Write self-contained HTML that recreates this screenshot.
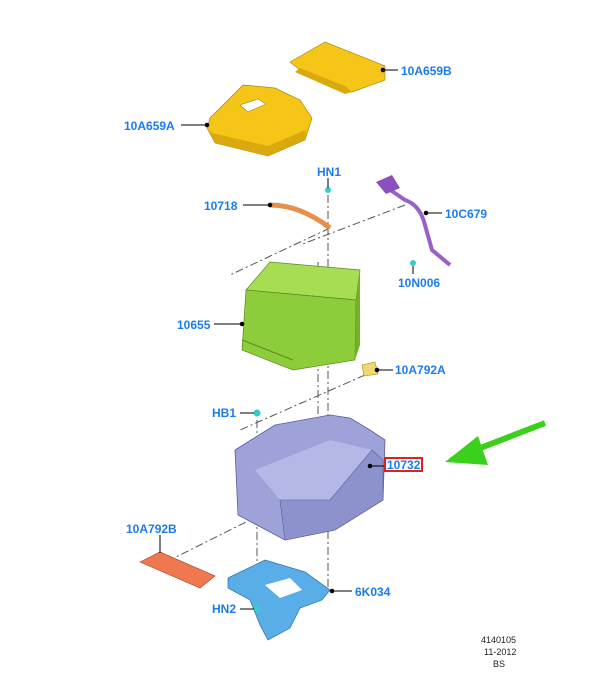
<!DOCTYPE html>
<html><head><meta charset="utf-8"><style>
html,body{margin:0;padding:0;background:#fff}
svg{display:block}
text{font-family:"Liberation Sans",sans-serif;font-weight:bold;font-size:12px;fill:#1a7cf0}
.s{font-size:9px;fill:#222;font-weight:normal}
</style></head><body>
<svg width="600" height="673" viewBox="0 0 600 673" xmlns="http://www.w3.org/2000/svg">
<!-- dash-dot assembly lines -->
<g stroke="#555" stroke-width="1" stroke-dasharray="8,3,2,3" fill="none">
<line x1="328" y1="195" x2="328" y2="590"/>
<line x1="318" y1="262" x2="318" y2="470"/>
<line x1="257" y1="420" x2="257" y2="605"/>
<line x1="365" y1="375" x2="240" y2="430"/>
<line x1="260" y1="515" x2="160" y2="565"/>
<line x1="405" y1="205" x2="300" y2="245"/>
<line x1="330" y1="228" x2="230" y2="275"/>
</g>
<!-- 10A659B cover -->
<polygon points="290,62 325,42 385,66 385,80 352,92 345,88 300,70" fill="#f5c518" stroke="#a88a10" stroke-width="0.7"/>
<polygon points="300,68 345,86 352,92 345,94 295,72" fill="#d9a90e"/>
<!-- 10A659A lid -->
<polygon points="210,118 243,85 275,88 300,100 312,118 305,140 268,156 215,143 207,128" fill="#f5c518" stroke="#a88a10" stroke-width="0.7"/>
<polygon points="207,128 215,143 268,156 305,140 306,130 268,146 212,133" fill="#d9a90e"/>
<polygon points="240,105 258,99 266,104 248,112" fill="#fff" stroke="#a88a10" stroke-width="0.6"/>
<!-- HN1 -->
<circle cx="328" cy="190" r="3" fill="#3cc"/>
<!-- 10718 strap -->
<path d="M270,205 Q300,205 330,228" stroke="#e8904a" stroke-width="5" fill="none"/>
<!-- 10C679 cable -->
<path d="M383,185 L405,200 Q420,205 425,225 L432,250 L450,265" stroke="#9b5fc8" stroke-width="4" fill="none"/>
<polygon points="376,182 392,175 400,188 386,194" fill="#8b4fc0"/>
<circle cx="413" cy="263" r="3" fill="#3cc"/>
<!-- 10655 battery -->
<polygon points="246,290 270,262 360,270 356,300" fill="#a6dd52" stroke="#5d8a20" stroke-width="0.7"/>
<polygon points="246,290 356,300 355,360 293,370 242,350" fill="#8dcc3a" stroke="#5d8a20" stroke-width="0.7"/>
<polygon points="356,300 360,270 360,345 355,360" fill="#76b02a"/>
<line x1="242" y1="340" x2="293" y2="360" stroke="#5d8a20"/>
<!-- 10A792A -->
<polygon points="362,365 375,362 378,374 364,376" fill="#f0d870" stroke="#a88a10" stroke-width="0.6"/>
<!-- HB1 -->
<circle cx="257" cy="413" r="3.5" fill="#3cc"/>
<!-- tray -->
<polygon points="235,450 275,425 330,415 350,418 370,430 385,440 383,500 335,530 285,540 238,515" fill="#9ea2d8" stroke="#5a5e9a" stroke-width="0.8"/>
<polygon points="255,470 330,440 372,450 330,500 280,500" fill="#b4b8e6"/>
<polygon points="280,500 330,500 372,450 383,460 383,500 335,530 285,540" fill="#8e92cc" stroke="#5a5e9a" stroke-width="0.6"/>
<!-- 10A792B -->
<polygon points="140,562 160,552 215,576 200,588" fill="#f07850" stroke="#a04020" stroke-width="0.6"/>
<!-- 6K034 plate -->
<polygon points="228,578 265,560 305,572 330,590 322,600 300,608 290,628 268,640 260,625 250,600 228,588" fill="#5aaee8" stroke="#2d6ea8" stroke-width="0.7"/>
<polygon points="265,585 290,578 302,590 280,598" fill="#fff"/>
<circle cx="257" cy="608" r="3.5" fill="#3cc"/>
<!-- leader lines -->
<g stroke="#000" stroke-width="1">
<line x1="383" y1="70" x2="398" y2="70"/><circle cx="383" cy="70" r="1.8"/>
<line x1="181" y1="125" x2="207" y2="125"/><circle cx="207" cy="125" r="1.8"/>
<line x1="328" y1="178" x2="328" y2="188"/>
<line x1="243" y1="205" x2="270" y2="205"/><circle cx="270" cy="205" r="1.8"/>
<line x1="426" y1="213" x2="442" y2="213"/><circle cx="426" cy="213" r="1.8"/>
<line x1="413" y1="266" x2="413" y2="274"/>
<line x1="214" y1="324" x2="242" y2="324"/><circle cx="242" cy="324" r="1.8"/>
<line x1="377" y1="370" x2="393" y2="370"/><circle cx="377" cy="370" r="1.8"/>
<line x1="240" y1="413" x2="254" y2="413"/>
<line x1="370" y1="466" x2="385" y2="466"/><circle cx="370" cy="466" r="1.8"/>
<line x1="160" y1="535" x2="160" y2="553"/>
<line x1="332" y1="591" x2="352" y2="591"/><circle cx="332" cy="591" r="1.8"/>
<line x1="240" y1="609" x2="254" y2="609"/>
</g>
<!-- green arrow -->
<line x1="545" y1="423" x2="470" y2="452" stroke="#3ad01c" stroke-width="6"/>
<polygon points="445,462 478,436 488,465" fill="#3ad01c"/>
<!-- labels -->
<text x="401" y="75">10A659B</text>
<text x="124" y="130">10A659A</text>
<text x="317" y="176">HN1</text>
<text x="204" y="210">10718</text>
<text x="445" y="218">10C679</text>
<text x="398" y="287">10N006</text>
<text x="177" y="329">10655</text>
<text x="395" y="374">10A792A</text>
<text x="212" y="417">HB1</text>
<rect x="385" y="458" width="37" height="13" fill="#fff" stroke="#e02020" stroke-width="2"/>
<text x="387" y="469">10732</text>
<text x="126" y="533">10A792B</text>
<text x="355" y="596">6K034</text>
<text x="212" y="613">HN2</text>
<text class="s" x="481" y="643">4140105</text>
<text class="s" x="484" y="655">11-2012</text>
<text class="s" x="493" y="667">BS</text>
</svg>
</body></html>
